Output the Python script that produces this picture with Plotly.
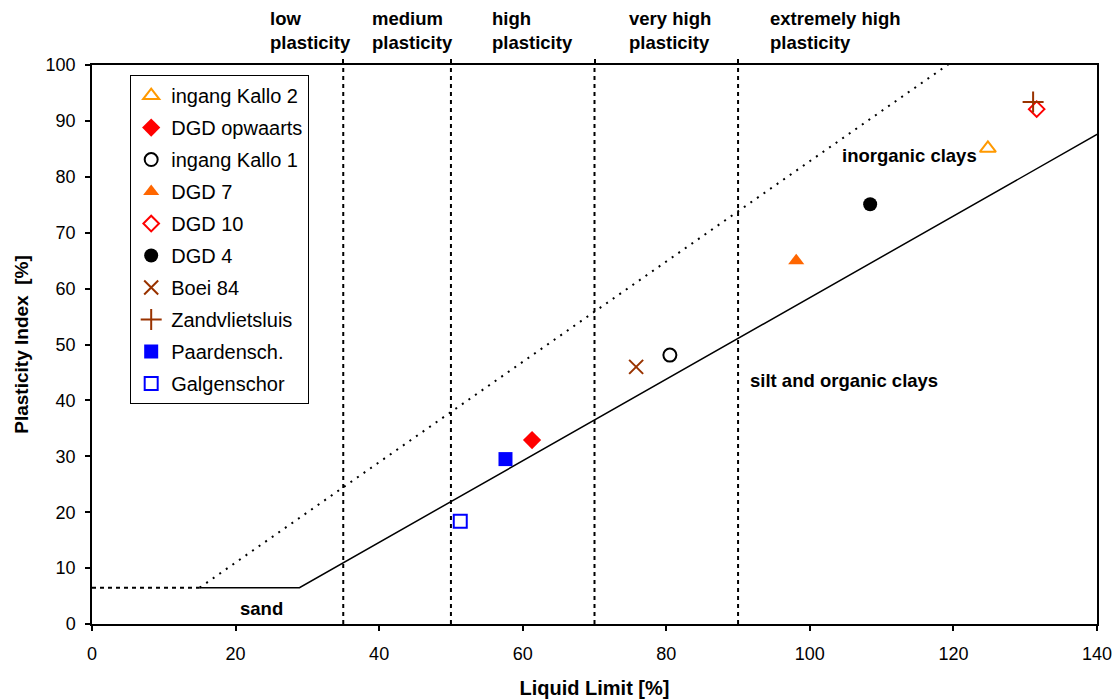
import plotly.graph_objects as go

# ---- data ----
series_names = ["ingang Kallo 2", "DGD opwaarts", "ingang Kallo 1", "DGD 7", "DGD 10",
                "DGD 4", "Boei 84", "Zandvlietsluis", "Paardensch.", "Galgenschor"]
liquid_limit = [124.8, 61.3, 80.5, 98.1, 131.6, 108.4, 75.8, 131.1, 57.6, 51.3]
plasticity_index = [85.1, 32.9, 48.1, 65.0, 92.1, 75.1, 46.0, 93.4, 29.5, 18.4]
symbols = ["triangle-up-open", "diamond", "circle-open", "triangle-up", "diamond-open",
           "circle", "x-thin-open", "cross-thin-open", "square", "square-open"]
colors = ["#FF9900", "#FF0000", "#000000", "#FF6600", "#FF0000",
          "#000000", "#993300", "#993300", "#0000FF", "#0000FF"]
sizes = [14, 14, 13, 14, 12, 14, 14, 15, 14, 13]

a_line_ll = [15.0, 28.9, 141.0]
a_line_pi = [6.5, 6.5, 88.3]
u_line_ll = [15.0, 120.5]
u_line_pi = [6.5, 101.2]
sand_ll = [0.0, 15.0]
sand_pi = [6.5, 6.5]
zone_bounds = [35, 50, 70, 90]
zone_labels = ["low<br>plasticity", "medium<br>plasticity", "high<br>plasticity",
               "very high<br>plasticity", "extremely high<br>plasticity"]
zone_label_x = [24.5, 38.7, 55.4, 74.5, 94.1]
region_labels = ["inorganic clays", "silt and organic clays", "sand"]
region_x = [104.2, 91.4, 20.3]
region_y = [83.9, 43.5, 2.7]

FONT = "Arial, Liberation Sans, sans-serif"

fig = go.Figure()

# reference lines
fig.add_trace(go.Scatter(x=a_line_ll, y=a_line_pi, mode="lines",
                         line=dict(color="black", width=1.5), showlegend=False, hoverinfo="skip"))
fig.add_trace(go.Scatter(x=u_line_ll, y=u_line_pi, mode="lines",
                         line=dict(color="black", width=2, dash="2px,6px"), showlegend=False, hoverinfo="skip"))
fig.add_trace(go.Scatter(x=sand_ll, y=sand_pi, mode="lines",
                         line=dict(color="black", width=2, dash="4px,4px"), showlegend=False, hoverinfo="skip"))
for xb in zone_bounds:
    fig.add_trace(go.Scatter(x=[xb, xb], y=[0, 100], mode="lines", xaxis="x2",
                             line=dict(color="black", width=2, dash="4px,4px"),
                             showlegend=False, hoverinfo="skip"))

# data series
for i, name in enumerate(series_names):
    sym = symbols[i]
    is_open = sym.endswith("-open")
    fig.add_trace(go.Scatter(
        x=[liquid_limit[i]], y=[plasticity_index[i]], mode="markers", name=name,
        legendgroup=name,
        marker=dict(symbol=sym, size=sizes[i], color=colors[i],
                    line=dict(color=colors[i], width=2 if is_open else 0)),
    ))

annotations = []
for lbl, xv in zip(zone_labels, zone_label_x):
    annotations.append(dict(x=xv, y=100, xref="x", yref="y", text=lbl, showarrow=False,
                            xanchor="left", yanchor="bottom", align="left", yshift=10,
                            font=dict(family=FONT, size=18.5, color="black", weight="bold")))
for lbl, xv, yv in zip(region_labels, region_x, region_y):
    annotations.append(dict(x=xv, y=yv, xref="x", yref="y", text=lbl, showarrow=False,
                            xanchor="left", yanchor="middle",
                            font=dict(family=FONT, size=18.5, color="black", weight="bold")))

fig.update_layout(
    width=1116, height=699,
    margin=dict(l=92, r=19, t=65, b=75, autoexpand=False),
    paper_bgcolor="white", plot_bgcolor="white",
    font=dict(family=FONT, size=18, color="black"),
    xaxis=dict(range=[0, 140], dtick=20, showgrid=False, zeroline=False, automargin=False,
               showline=True, linecolor="black", linewidth=1.5, mirror=True,
               ticks="outside", ticklen=5, tickcolor="black", tickwidth=1.5,
               ticklabelstandoff=8,
               title=dict(text="<b>Liquid Limit [%]</b>", font=dict(size=20), standoff=28)),
    xaxis2=dict(range=[0, 140], overlaying="x", side="top", tickvals=zone_bounds, automargin=False,
                showticklabels=False, ticks="outside", ticklen=5, tickcolor="black", tickwidth=1.5,
                showgrid=False, zeroline=False, showline=False),
    yaxis=dict(range=[0, 100], dtick=10, showgrid=False, zeroline=False, automargin=False,
               showline=True, linecolor="black", linewidth=1.5, mirror=True,
               ticks="outside", ticklen=5, tickcolor="black", tickwidth=1.5,
               ticklabelstandoff=6,
               title=dict(text="<b>Plasticity Index  [%]</b>", font=dict(size=19), standoff=12)),
    legend=dict(x=0.038, y=0.982, xanchor="left", yanchor="top",
                bordercolor="black", borderwidth=1, bgcolor="white",
                font=dict(family=FONT, size=20), tracegroupgap=3,
                itemwidth=30),
    annotations=annotations,
)

fig.write_html("out.html", config={"displayModeBar": False},
               post_script="document.body.style.margin='0';document.body.style.overflow='hidden';")
